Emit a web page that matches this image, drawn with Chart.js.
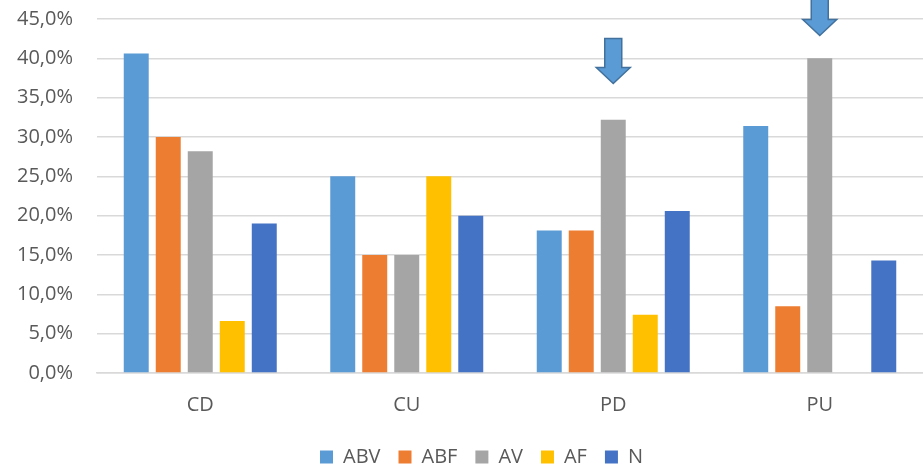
<!DOCTYPE html>
<html>
<head>
<meta charset="utf-8">
<script src="https://cdn.jsdelivr.net/npm/chart.js@4/dist/chart.umd.min.js"></script>
<style>
  html, body { margin: 0; padding: 0; background: #fff; }
  #wrap { width: 923px; height: 469px; position: relative; }
</style>
</head>
<body>
<div id="wrap"><canvas id="c"></canvas></div>
<script>
// Share of each group per class (percent)
const categories = ['CD', 'CU', 'PD', 'PU'];
const seriesNames = ['ABV', 'ABF', 'AV', 'AF', 'N'];
const ABV = [40.6, 25.0, 18.1, 31.4];
const ABF = [30.0, 15.0, 18.1, 8.5];
const AV  = [28.2, 15.0, 32.2, 40.0];
const AF  = [6.6, 25.0, 7.4, 0.0];
const N   = [19.0, 20.0, 20.6, 14.3];
const colors = ['#5B9BD5', '#ED7D31', '#A5A5A5', '#FFC000', '#4472C4'];
const yTicks = [0, 5, 10, 15, 20, 25, 30, 35, 40, 45];

// Down arrows marking the AV bar: tip level (percent) per category, null = no arrow
const arrowTips = [null, null, 36.8, 42.9];
const arrowSeries = 2;

const seriesValues = [ABV, ABF, AV, AF, N];
const datasets = seriesNames.map((name, i) => ({
  label: name,
  data: seriesValues[i],
  backgroundColor: colors[i],
  borderWidth: 0,
  categoryPercentage: 0.775,
  barPercentage: 0.78
}));

const arrowPlugin = {
  id: 'downArrows',
  afterDatasetsDraw(chart) {
    const ctx = chart.ctx;
    const y = chart.scales.y;
    const meta = chart.getDatasetMeta(arrowSeries);
    arrowTips.forEach((tip, i) => {
      if (tip === null) return;
      const bar = meta.data[i];
      const cx = bar.x;
      const tipY = y.getPixelForValue(tip);
      const len = 45, headH = 16, headW = 17, shaftW = 8.5;
      const top = tipY - len, neck = tipY - headH;
      ctx.save();
      ctx.beginPath();
      ctx.moveTo(cx - shaftW, top);
      ctx.lineTo(cx + shaftW, top);
      ctx.lineTo(cx + shaftW, neck);
      ctx.lineTo(cx + headW, neck);
      ctx.lineTo(cx, tipY);
      ctx.lineTo(cx - headW, neck);
      ctx.lineTo(cx - shaftW, neck);
      ctx.closePath();
      ctx.fillStyle = '#5B9BD5';
      ctx.fill();
      ctx.lineWidth = 1.5;
      ctx.strokeStyle = '#41719C';
      ctx.lineJoin = 'miter';
      ctx.stroke();
      ctx.restore();
    });
  }
};

// Nudge the legend row so it sits a little right of the canvas centre
const legendShift = {
  id: 'legendShift',
  afterLayout(chart) {
    if (chart.legend) chart.legend.left += 40;
  }
};

const fmt = v => v.toFixed(1).replace('.', ',') + '%';
const FONT = { family: 'Open Sans', size: 20 };

new Chart(document.getElementById('c'), {
  type: 'bar',
  data: { labels: categories, datasets },
  options: {
    responsive: true,
    maintainAspectRatio: false,
    animation: false,
    layout: { autoPadding: false, padding: { top: 19, right: 0, left: 0, bottom: -8 } },
    plugins: {
      legend: {
        position: 'bottom',
        labels: {
          boxWidth: 13,
          boxHeight: 13,
          padding: 18,
          color: '#595959',
          font: FONT
        }
      },
      tooltip: { enabled: false }
    },
    scales: {
      x: {
        grid: { display: false },
        border: { display: true, color: '#D9D9D9', width: 1.5 },
        ticks: { color: '#595959', font: FONT, padding: 12 }
      },
      y: {
        min: 0,
        max: 45,
        afterBuildTicks(axis) { axis.ticks = yTicks.map(v => ({ value: v })); },
        afterFit(axis) { axis.paddingTop = 0; axis.paddingBottom = 0; axis.width = 97; },
        grid: { color: '#D9D9D9', lineWidth: 1.5, drawTicks: false },
        border: { display: false },
        ticks: {
          color: '#595959',
          font: FONT,
          padding: 24,
          callback: v => fmt(v)
        }
      }
    }
  },
  plugins: [arrowPlugin, legendShift]
});
</script>
</body>
</html>
